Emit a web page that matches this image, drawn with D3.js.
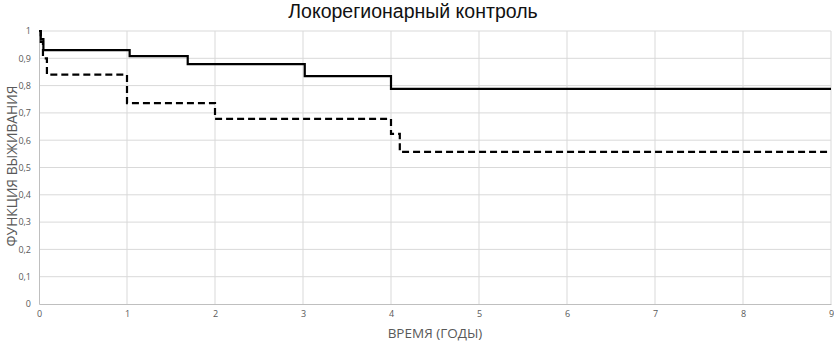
<!DOCTYPE html>
<html>
<head>
<meta charset="utf-8">
<script src="https://cdn.jsdelivr.net/npm/d3@7"></script>
<style>
  body { margin: 0; background: #fff; }
  text { font-family: "Open Sans", "Noto Sans", sans-serif; }
</style>
</head>
<body>
<svg width="834" height="343"></svg>
<script>
// время (годы) и функция выживания, две группы
var solidTime = [0, 0.02, 0.05, 1.03, 1.69, 3.02, 4.0, 9];
var solidSurv = [1, 0.97, 0.93, 0.908, 0.879, 0.835, 0.788, 0.788];
var dashTime = [0, 0.02, 0.045, 0.09, 1.0, 2.0, 4.0, 4.1, 9];
var dashSurv = [1, 0.96, 0.90, 0.84, 0.736, 0.678, 0.623, 0.557, 0.557];
var xTicks = [0, 1, 2, 3, 4, 5, 6, 7, 8, 9];
var yTicks = [0, 0.1, 0.2, 0.3, 0.4, 0.5, 0.6, 0.7, 0.8, 0.9, 1];

var svg = d3.select("svg"),
    width = +svg.attr("width"),
    height = +svg.attr("height");
var margin = {left: 39, right: 3, top: 31, bottom: 39};

var x = d3.scaleLinear().domain([0, 9]).range([margin.left, width - margin.right]);
var y = d3.scaleLinear().domain([0, 1]).range([height - margin.bottom, margin.top]);

// сетка
svg.append("g").selectAll("line").data(xTicks.slice(1)).enter().append("line")
    .attr("x1", d => x(d)).attr("x2", d => x(d))
    .attr("y1", y(0)).attr("y2", y(1))
    .attr("stroke", "#d9d9d9").attr("stroke-width", 1);
svg.append("g").selectAll("line").data(yTicks.slice(1)).enter().append("line")
    .attr("x1", x(0)).attr("x2", x(9))
    .attr("y1", d => y(d)).attr("y2", d => y(d))
    .attr("stroke", "#d9d9d9").attr("stroke-width", 1);

// оси
var fmt = d => String(d3.format(".1~f")(d)).replace(".", ",");
var xAxis = svg.append("g").attr("transform", "translate(0," + y(0) + ")")
    .call(d3.axisBottom(x).tickValues(xTicks).tickSize(0).tickPadding(7).tickFormat(d3.format("d")));
var yAxis = svg.append("g").attr("transform", "translate(" + x(0) + ",0)")
    .call(d3.axisLeft(y).tickValues(yTicks).tickSize(0).tickPadding(8).tickFormat(fmt));
[xAxis, yAxis].forEach(function(a){
    a.select(".domain").attr("stroke", "#bfbfbf");
    a.selectAll("text").attr("fill", "#595959").attr("font-size", 9)
        .style("font-family", "'Open Sans', sans-serif");
});

// линии выживания
var line = d3.line().x(d => x(d[0])).y(d => y(d[1])).curve(d3.curveStepAfter);
svg.append("path")
    .datum(solidTime.map((t, i) => [t, solidSurv[i]]))
    .attr("d", line)
    .attr("fill", "none").attr("stroke", "#000").attr("stroke-width", 2.2);
svg.append("path")
    .datum(dashTime.map((t, i) => [t, dashSurv[i]]))
    .attr("d", line)
    .attr("fill", "none").attr("stroke", "#000").attr("stroke-width", 2.2)
    .attr("stroke-dasharray", "7,4");

// подписи
svg.append("text").attr("x", 413).attr("y", 18)
    .attr("text-anchor", "middle").attr("font-size", 19.5).attr("fill", "#111")
    .style("font-family", "'Liberation Sans', Arial, sans-serif")
    .text("Локорегионарный контроль");
svg.append("text").attr("x", 435).attr("y", 338)
    .attr("text-anchor", "middle").attr("font-size", 13.5).attr("fill", "#595959")
    .text("ВРЕМЯ (ГОДЫ)");
svg.append("text")
    .attr("transform", "translate(17," + 166 + ") rotate(-90)")
    .attr("text-anchor", "middle").attr("font-size", 13.8).attr("fill", "#595959")
    .text("ФУНКЦИЯ ВЫЖИВАНИЯ");
</script>
</body>
</html>
